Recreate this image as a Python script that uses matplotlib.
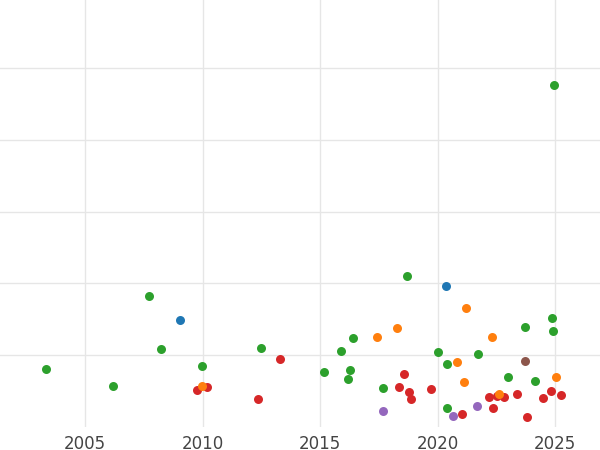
import matplotlib
matplotlib.use("Agg")
import matplotlib.pyplot as plt

green_x = [2003.34,2006.19,2007.72,2008.23,2009.98,2012.49,2015.17,2015.89,2016.40,2016.19,2016.28,2017.68,2018.70,2020.02,2020.40,2020.40,2021.72,2023.0,2023.72,2024.15,2024.87,2024.91,2024.96]
green_y = [0.81,0.57,1.83,1.09,0.85,1.10,0.77,1.06,1.24,0.67,0.79,0.54,2.10,1.05,0.88,0.26,1.02,0.70,1.39,0.64,1.52,1.34,4.77]
blue_x = [2009.04,2020.36]
blue_y = [1.49,1.97]
red_x = [2009.77,2010.19,2012.36,2013.30,2018.36,2018.57,2018.79,2018.87,2019.72,2021.04,2022.19,2022.36,2022.53,2022.83,2023.38,2023.81,2024.49,2024.83,2025.26]
red_y = [0.52,0.56,0.39,0.95,0.56,0.74,0.49,0.39,0.53,0.18,0.42,0.26,0.43,0.42,0.46,0.14,0.40,0.50,0.45]
orange_x = [2009.98,2017.43,2018.28,2020.83,2021.13,2021.21,2022.32,2022.62,2025.04]
orange_y = [0.57,1.25,1.38,0.91,0.63,1.66,1.25,0.46,0.70]
purple_x = [2017.68,2020.66,2021.68]
purple_y = [0.22,0.15,0.29]
brown_x = [2023.72]
brown_y = [0.92]

fig = plt.figure(figsize=(6, 4.5), dpi=100)
ax = fig.add_axes([0, 427/450*0 + 23/450, 1, 427/450])
ax.set_position([0, 1-427/450, 1, 427/450])
series = [(green_x, green_y, "#2ca02c"), (blue_x, blue_y, "#1f77b4"),
          (red_x, red_y, "#d62728"), (orange_x, orange_y, "#ff7f0e"),
          (purple_x, purple_y, "#9467bd"), (brown_x, brown_y, "#8c564b")]
for xs, ys, c in series:
    ax.scatter(xs, ys, s=42, color=c, zorder=3, linewidths=0)
ax.set_xlim(2001.38, 2026.9)
ax.set_ylim(0, 5.95)
ax.set_xticks([2005, 2010, 2015, 2020, 2025])
ax.set_yticks([1, 2, 3, 4, 5])
ax.tick_params(axis='y', labelleft=False, length=0)
ax.tick_params(axis='x', length=0, labelsize=12, labelcolor="#444444", pad=6)
ax.grid(True, color="#e6e6e6", linewidth=1)
for s in ax.spines.values():
    s.set_visible(False)
fig.savefig("out.png", dpi=100)
